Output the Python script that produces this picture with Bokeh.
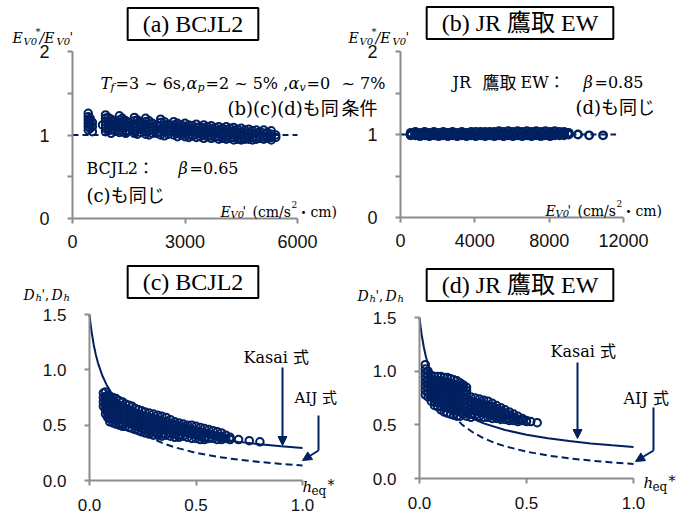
from bokeh.plotting import figure
from bokeh.models import Label, Arrow, NormalHead, FixedTicker, PrintfTickFormatter, Range1d
from bokeh.layouts import column, row
from bokeh.embed import file_html
from bokeh.resources import INLINE

NAVY = "#002060"
AXIS = "#8c8c8c"
SERIF = "DejaVu Serif, Noto Sans CJK JP"
TITLEF = "Liberation Serif, Noto Sans CJK JP"
TICKF = "Liberation Sans"

# ---------------- data ----------------
# (a) BCJL2 : E_V0' vs E_V0*/E_V0'
a_cols = [420, 470, 530, 800, 880, 950, 1030, 1100, 1250, 1330, 1420, 1500, 1650, 1730, 1820,
          1950, 2040, 2130, 2250, 2350, 2450, 2560, 2700, 2800, 2900, 3000, 3100, 3200, 3300,
          3400, 3500, 3600, 3700, 3800, 3900, 4000, 4100, 4200, 4300, 4400, 4500, 4600, 4700,
          4800, 4900, 5000, 5100, 5200, 5300, 5420]
a_vals = [
    [1.26, 1.22, 1.18, 1.14, 1.10, 1.06], [1.20, 1.16, 1.12, 1.08], [1.15, 1.10, 1.04], [1.12],
    [1.24, 1.20, 1.16, 1.12, 1.08, 1.04], [1.21, 1.17, 1.13, 1.09, 1.05], [1.19, 1.14, 1.10, 1.06, 1.02],
    [1.16, 1.12, 1.07], [1.23, 1.18, 1.14, 1.10, 1.06, 1.03], [1.20, 1.16, 1.12, 1.08, 1.04],
    [1.17, 1.13, 1.09, 1.05, 1.02], [1.15, 1.10, 1.05], [1.21, 1.17, 1.13, 1.09, 1.05, 1.02],
    [1.18, 1.14, 1.10, 1.06, 1.01], [1.15, 1.11, 1.07, 1.03], [1.20, 1.16, 1.12, 1.08, 1.04, 1.01],
    [1.17, 1.13, 1.09, 1.05, 1.00], [1.14, 1.10, 1.06, 1.02], [1.12, 1.07, 1.02],
    [1.19, 1.15, 1.11, 1.07, 1.03, 1.00], [1.16, 1.12, 1.08, 1.04, 0.99], [1.13, 1.09, 1.05, 1.01],
    [1.16, 1.12, 1.08, 1.04, 1.00], [1.14, 1.10, 1.06, 1.02, 0.98], [1.12, 1.08, 1.04, 1.00],
    [1.14, 1.10, 1.06, 1.02, 0.98], [1.12, 1.08, 1.04, 1.00, 0.97], [1.11, 1.07, 1.03, 0.99],
    [1.13, 1.09, 1.05, 1.01, 0.97], [1.10, 1.06, 1.02, 0.98], [1.12, 1.08, 1.04, 1.00, 0.96],
    [1.10, 1.06, 1.02, 0.98], [1.11, 1.07, 1.03, 0.99, 0.96], [1.09, 1.05, 1.01, 0.97],
    [1.10, 1.06, 1.02, 0.98, 0.95], [1.08, 1.04, 1.00, 0.96], [1.10, 1.06, 1.02, 0.98, 0.95],
    [1.08, 1.04, 1.00, 0.96], [1.09, 1.05, 1.01, 0.97, 0.94], [1.07, 1.03, 0.99, 0.95],
    [1.08, 1.04, 1.00, 0.96, 0.94], [1.06, 1.02, 0.98, 0.95], [1.07, 1.03, 0.99, 0.95],
    [1.05, 1.01, 0.97, 0.94], [1.06, 1.02, 0.98, 0.95], [1.04, 1.00, 0.96],
    [1.06, 1.02, 0.98, 0.95], [1.03, 0.99, 0.96], [1.05, 1.01, 0.97, 0.94], [1.00, 0.97]]

# (b) JR Takatori EW
b_cols = [550, 800, 1050, 1300, 1550, 1800, 2050, 2300, 2550, 2800, 3050, 3300, 3550, 3800,
          4050, 4300, 4550, 4800, 5050, 5300, 5550, 5800, 6050, 6300, 6550, 6800, 7050, 7300,
          7550, 7800, 8050, 8300, 8550, 8800, 9050, 9550, 10150, 10900]
b_vals = [
    [1.02, 1.00, 0.99], [1.03, 1.01, 0.99], [1.02, 1.00, 0.98], [1.03, 1.01, 0.99],
    [1.02, 1.00, 0.98], [1.03, 1.01, 0.99], [1.02, 1.00, 0.98], [1.03, 1.01, 0.99],
    [1.02, 1.00, 0.98], [1.03, 1.01, 0.99], [1.02, 1.00, 0.98], [1.03, 1.01, 0.99],
    [1.02, 1.00, 0.98], [1.03, 1.01, 0.99], [1.03, 1.00, 0.98], [1.03, 1.01, 0.99],
    [1.03, 1.00, 0.98], [1.03, 1.01, 0.99], [1.03, 1.00, 0.98], [1.04, 1.01, 0.99],
    [1.03, 1.00, 0.98], [1.04, 1.01, 0.99], [1.03, 1.00, 0.98], [1.04, 1.01, 0.99],
    [1.03, 1.00, 0.98], [1.04, 1.01, 0.99], [1.03, 1.00, 0.98], [1.04, 1.01, 0.99],
    [1.03, 1.00, 0.98], [1.04, 1.01, 0.99], [1.03, 1.00, 0.98], [1.04, 1.01, 0.99],
    [1.03, 1.00, 0.99], [1.03, 1.01, 0.99], [1.02, 1.00], [1.00], [0.99], [0.99]]

# reference level E_V0*/E_V0' = 1 (dashed)
ref_level = [1.0, 1.0]
ref_span_a = [0, 6000]
ref_span_b = [0, 11600]

# (c) BCJL2 : h_eq* vs D_h
c_cols = [0.065, 0.075, 0.085, 0.095, 0.11, 0.125, 0.14, 0.155, 0.17, 0.185, 0.20, 0.215, 0.23,
          0.245, 0.26, 0.28, 0.30, 0.32, 0.34, 0.36, 0.38, 0.40, 0.42, 0.44, 0.46, 0.48, 0.50,
          0.52, 0.54, 0.56, 0.58, 0.60, 0.62, 0.64, 0.66, 0.70, 0.75, 0.80]
c_vals = [
    [0.79, 0.75, 0.71, 0.67], [0.80, 0.76, 0.72, 0.68, 0.64, 0.60], [0.77, 0.73, 0.69, 0.65, 0.61, 0.57],
    [0.76, 0.72, 0.68, 0.64, 0.60, 0.56, 0.53], [0.75, 0.71, 0.67, 0.63, 0.59, 0.55, 0.52],
    [0.74, 0.70, 0.66, 0.62, 0.58, 0.54, 0.51], [0.72, 0.68, 0.64, 0.60, 0.56, 0.52, 0.50],
    [0.71, 0.67, 0.63, 0.59, 0.55, 0.51, 0.49], [0.69, 0.65, 0.61, 0.57, 0.53, 0.49],
    [0.68, 0.64, 0.60, 0.56, 0.52, 0.48], [0.67, 0.63, 0.59, 0.55, 0.51, 0.47],
    [0.65, 0.61, 0.57, 0.53, 0.49, 0.46], [0.64, 0.60, 0.56, 0.52, 0.48, 0.45],
    [0.63, 0.59, 0.55, 0.51, 0.47, 0.44], [0.62, 0.58, 0.54, 0.50, 0.46, 0.43],
    [0.61, 0.57, 0.53, 0.49, 0.45, 0.42], [0.60, 0.56, 0.52, 0.48, 0.44, 0.41],
    [0.59, 0.55, 0.51, 0.47, 0.43, 0.41], [0.58, 0.54, 0.50, 0.46, 0.42, 0.40],
    [0.57, 0.53, 0.49, 0.45, 0.41], [0.55, 0.51, 0.47, 0.43, 0.40], [0.53, 0.50, 0.46, 0.42, 0.39],
    [0.52, 0.49, 0.45, 0.41, 0.39], [0.51, 0.48, 0.44, 0.40], [0.50, 0.47, 0.43, 0.39],
    [0.50, 0.46, 0.42, 0.38], [0.49, 0.45, 0.41, 0.38], [0.48, 0.44, 0.40, 0.37],
    [0.47, 0.43, 0.39, 0.37], [0.46, 0.42, 0.38], [0.45, 0.41, 0.38], [0.44, 0.40, 0.37],
    [0.43, 0.39, 0.37], [0.41, 0.38], [0.39, 0.37], [0.37], [0.36], [0.35]]

# (d) JR Takatori EW : h_eq* vs D_h
d_cols = [0.027, 0.04, 0.055, 0.07, 0.085, 0.10, 0.115, 0.13, 0.145, 0.16, 0.175, 0.19, 0.205,
          0.22, 0.24, 0.26, 0.28, 0.30, 0.32, 0.34, 0.36, 0.38, 0.40, 0.42, 0.44, 0.46, 0.48,
          0.50, 0.52, 0.55]
d_vals = [
    [1.06, 1.02, 0.98, 0.94, 0.90, 0.86, 0.82, 0.78], [1.00, 0.96, 0.92, 0.88, 0.84, 0.80, 0.76],
    [0.96, 0.92, 0.88, 0.84, 0.80, 0.76, 0.72], [0.95, 0.91, 0.87, 0.83, 0.79, 0.75, 0.71, 0.68],
    [0.95, 0.91, 0.87, 0.83, 0.79, 0.75, 0.71, 0.67], [0.95, 0.91, 0.87, 0.83, 0.79, 0.75, 0.71, 0.67, 0.64],
    [0.94, 0.90, 0.86, 0.82, 0.78, 0.74, 0.70, 0.66, 0.62], [0.94, 0.90, 0.86, 0.82, 0.78, 0.74, 0.70, 0.66, 0.61],
    [0.93, 0.89, 0.85, 0.81, 0.77, 0.73, 0.69, 0.65, 0.60], [0.92, 0.88, 0.84, 0.80, 0.76, 0.72, 0.68, 0.64, 0.59],
    [0.91, 0.87, 0.83, 0.79, 0.75, 0.71, 0.67, 0.63, 0.58], [0.89, 0.86, 0.82, 0.78, 0.74, 0.70, 0.66, 0.62, 0.58],
    [0.87, 0.84, 0.80, 0.76, 0.72, 0.68, 0.64, 0.60], [0.85, 0.82, 0.78, 0.74, 0.70, 0.66, 0.62, 0.58],
    [0.76, 0.72, 0.68, 0.64, 0.60, 0.57], [0.75, 0.71, 0.67, 0.63, 0.59], [0.74, 0.70, 0.66, 0.62, 0.58],
    [0.73, 0.69, 0.65, 0.61, 0.57], [0.72, 0.68, 0.64, 0.60, 0.57], [0.70, 0.67, 0.63, 0.59, 0.56],
    [0.68, 0.65, 0.62, 0.58, 0.56], [0.66, 0.63, 0.60, 0.57, 0.55], [0.64, 0.61, 0.58, 0.55],
    [0.62, 0.59, 0.56, 0.54], [0.60, 0.57, 0.54], [0.58, 0.55, 0.53], [0.56, 0.54], [0.54, 0.53],
    [0.53], [0.52]]

# Kasai and AIJ damping-reduction curves
kasai_h = [0.0, 0.005, 0.01, 0.02, 0.03, 0.04, 0.06, 0.08, 0.10, 0.12, 0.15, 0.20, 0.25, 0.30,
           0.40, 0.50, 0.60, 0.70, 0.80, 0.90, 1.00]
kasai_d = [1.500, 1.414, 1.342, 1.225, 1.134, 1.061, 0.949, 0.866, 0.802, 0.750, 0.688, 0.612,
           0.557, 0.514, 0.452, 0.408, 0.375, 0.349, 0.327, 0.309, 0.294]
aij_h = [0.15, 0.20, 0.25, 0.30, 0.35, 0.40, 0.50, 0.60, 0.70, 0.80, 0.90, 1.00]
aij_d = [0.600, 0.500, 0.429, 0.375, 0.333, 0.300, 0.250, 0.214, 0.188, 0.167, 0.150, 0.136]

x_ticks_a = [0, 3000, 6000]
x_ticks_b = [0, 4000, 8000, 12000]
y_ticks_top = [0, 1, 2]
y_minor_top = [0.5, 1.5]
ticks_bottom_x = [0, 0.5, 1.0]
ticks_bottom_y = [0, 0.5, 1.0, 1.5]


def flat(cols, vals):
    xs, ys = [], []
    for c, v in zip(cols, vals):
        for y in v:
            xs.append(c)
            ys.append(y)
    return xs, ys


# ---------------- geometry (page pixels) ----------------
GA = dict(ox=0, oy=0, w=341, h=260, fl=72, fr=297, ft=51, fb=218, x=(0, 6000), y=(0, 2))
GB = dict(ox=341, oy=0, w=342, h=260, fl=400, fr=623, ft=51, fb=217, x=(0, 12000), y=(0, 2))
GC = dict(ox=0, oy=260, w=341, h=260, fl=89, fr=302, ft=314, fb=480, x=(0, 1), y=(0, 1.5))
GD = dict(ox=341, oy=260, w=342, h=260, fl=419, fr=633, ft=317, fb=478, x=(0, 1), y=(0, 1.5))


def sx(g, px):
    return px - g["ox"]


def sy(g, py):
    return g["oy"] + g["h"] - py


def make_fig(g, xt, yt, ym, fmt=None, tick_size="18px", xstand=11):
    kx = (g["x"][1] - g["x"][0]) / (g["fr"] - g["fl"])
    ky = (g["y"][1] - g["y"][0]) / (g["fb"] - g["ft"])
    xr = Range1d(g["x"][0] - (g["fl"] - g["ox"]) * kx, g["x"][1] + (g["ox"] + g["w"] - g["fr"]) * kx)
    yr = Range1d(g["y"][0] - (g["oy"] + g["h"] - g["fb"]) * ky, g["y"][1] + (g["ft"] - g["oy"]) * ky)
    p = figure(width=g["w"], height=g["h"], x_range=xr, y_range=yr,
               output_backend="svg", toolbar_location=None, min_border=0,
               min_border_left=0, min_border_right=0, min_border_top=0, min_border_bottom=0)
    p.xgrid.visible = False
    p.ygrid.visible = False
    p.outline_line_color = None
    p.background_fill_color = "white"
    p.border_fill_color = "white"
    p.xaxis.ticker = FixedTicker(ticks=xt)
    p.yaxis.ticker = FixedTicker(ticks=yt, minor_ticks=ym)
    p.xaxis.fixed_location = g["y"][0]
    p.yaxis.fixed_location = g["x"][0]
    p.xaxis.bounds = g["x"]
    p.yaxis.bounds = g["y"]
    for ax in (p.xaxis[0], p.yaxis[0]):
        ax.axis_line_color = AXIS
        ax.axis_line_width = 2
        ax.major_tick_line_color = AXIS
        ax.major_tick_line_width = 2
        ax.major_tick_out = 5
        ax.major_tick_in = 0
        ax.minor_tick_line_color = AXIS
        ax.minor_tick_line_width = 2
        ax.minor_tick_out = 5
        ax.minor_tick_in = 0
        ax.major_label_text_font = TICKF
        ax.major_label_text_font_size = tick_size
        ax.major_label_text_color = "#111111"
        if fmt:
            ax.formatter = PrintfTickFormatter(format=fmt)
    p.yaxis.major_label_standoff = 18
    p.xaxis.major_label_standoff = xstand
    return p


def lab(p, g, px, py, text, size, style="normal", font=SERIF, **kw):
    p.add_layout(Label(x=sx(g, px), y=sy(g, py), x_units="screen", y_units="screen",
                       text=text, text_font=font, level="overlay",
                       text_font_size=f"{size}px", text_font_style=style,
                       text_color="black", text_baseline=kw.pop("baseline", "alphabetic"),
                       text_align=kw.pop("align", "left"), **kw))


def title_box(p, g, cx, cy, text):
    lab(p, g, cx, cy, text, 24, font=TITLEF, align="center", baseline="middle",
        border_line_color="black", border_line_width=2, background_fill_color="white",
        padding=(15, 3))


def ev_titles(p, g, x0, xt0):
    # y-axis title  E_V0*/E_V0'
    lab(p, g, x0, 37, "E", 14, "italic")
    lab(p, g, x0 + 11, 41, "V0", 10, "italic")
    lab(p, g, x0 + 23, 31, "*", 10)
    lab(p, g, x0 + 27, 37, "/E", 14, "italic")
    lab(p, g, x0 + 44, 41, "V0", 10, "italic")
    lab(p, g, x0 + 57, 37, "'", 13)
    # x-axis title  E_V0' (cm/s2・cm)
    yb = g["fb"] - 7
    lab(p, g, xt0, yb, "E", 14, "italic")
    lab(p, g, xt0 + 10, yb + 3, "V0", 10, "italic")
    lab(p, g, xt0 + 22, yb, "'", 13)
    lab(p, g, xt0 + 32, yb, "(cm/s", 14)
    lab(p, g, xt0 + 71, yb - 7, "2", 9)
    lab(p, g, xt0 + 76, yb, "・cm)", 14)


def dh_titles(p, g, x0, yb, xh, xb):
    lab(p, g, x0, yb, "D", 14, "italic")
    lab(p, g, x0 + 12, yb + 3, "h", 10, "italic")
    lab(p, g, x0 + 18, yb, "',", 13)
    lab(p, g, x0 + 28, yb, "D", 14, "italic")
    lab(p, g, x0 + 40, yb + 3, "h", 10, "italic")
    lab(p, g, xh, xb, "h", 15, "italic")
    lab(p, g, xh + 9, xb + 4, "eq", 12)
    lab(p, g, xh + 25, xb - 2, "*", 14)


def scatter(p, xs, ys, lw=2.0):
    p.scatter(xs, ys, marker="circle", size=7.5, fill_color=None, line_color=NAVY, line_width=lw)


def curves(p):
    p.line(kasai_h, kasai_d, line_color=NAVY, line_width=2)
    p.line(aij_h, aij_d, line_color=NAVY, line_width=2, line_dash="7 4")


def arrow(p, g, x1, y1, x2, y2, head=True):
    p.add_layout(Arrow(x_start=sx(g, x1), y_start=sy(g, y1), x_end=sx(g, x2), y_end=sy(g, y2),
                       start_units="screen", end_units="screen", level="overlay",
                       line_color=NAVY, line_width=2,
                       end=NormalHead(size=9, fill_color=NAVY, line_color=NAVY) if head else None))


# ---------------- (a) ----------------
pa = make_fig(GA, x_ticks_a, y_ticks_top, y_minor_top)
pa.line(ref_span_a, ref_level, line_color=NAVY, line_width=2, line_dash="6 4")
xa, ya = flat(a_cols, a_vals)
scatter(pa, xa, ya)
title_box(pa, GA, 192.5, 23.5, "(a) BCJL2")
ev_titles(pa, GA, 12, 220)
lab(pa, GA, 100, 83, "T", 16, "italic")
lab(pa, GA, 110, 87, "f", 11, "italic")
lab(pa, GA, 115, 83, "=3 ~ 6s,", 16)
lab(pa, GA, 186, 83, "α", 16, "italic")
lab(pa, GA, 197, 87, "p", 11, "italic")
lab(pa, GA, 205, 83, "=2 ~ 5% ,", 16)
lab(pa, GA, 288, 83, "α", 16, "italic")
lab(pa, GA, 299, 87, "v", 11, "italic")
lab(pa, GA, 306, 83, "=0", 16)
lab(pa, GA, 227, 108, "(b)(c)(d)も同", 18)
lab(pa, GA, 86, 168, "BCJL2：", 16)
lab(pa, GA, 178, 168, "β", 16, "italic")
lab(pa, GA, 189, 168, "=0.65", 16)
lab(pa, GA, 86, 195, "(c)も同じ", 18)

# ---------------- (b) ----------------
pb = make_fig(GB, x_ticks_b, y_ticks_top, y_minor_top)
pb.line(ref_span_b, ref_level, line_color=NAVY, line_width=2, line_dash="6 4")
xb, yb = flat(b_cols, b_vals)
scatter(pb, xb, yb, lw=2.4)
title_box(pb, GB, 519.5, 22.5, "(b) JR 鷹取 EW")
ev_titles(pb, GB, 348, 545)
lab(pb, GB, 341, 83, "~ 7%", 16)
lab(pb, GB, 341, 108, "条件", 18)
lab(pb, GB, 452, 82, "JR", 16)
lab(pb, GB, 482, 82, "鷹取", 17)
lab(pb, GB, 520, 82, "EW：", 16)
lab(pb, GB, 583, 82, "β", 16, "italic")
lab(pb, GB, 594, 82, "=0.85", 16)
lab(pb, GB, 575, 107, "(d)も同じ", 18)

# ---------------- (c) ----------------
pc = make_fig(GC, ticks_bottom_x, ticks_bottom_y, [], fmt="%.1f", tick_size="17px", xstand=13)
xc, yc = flat(c_cols, c_vals)
scatter(pc, xc, yc)
curves(pc)
title_box(pc, GC, 192.5, 281.5, "(c) BCJL2")
dh_titles(pc, GC, 23, 294, 302, 486)
lab(pc, GC, 243, 357, "Kasai 式", 16)
lab(pc, GC, 294, 397, "AIJ 式", 15)
arrow(pc, GC, 282, 367, 282, 445)
arrow(pc, GC, 318, 415, 318, 450, head=False)
arrow(pc, GC, 318, 450, 302, 460)

# ---------------- (d) ----------------
pd_ = make_fig(GD, ticks_bottom_x, ticks_bottom_y, [], fmt="%.1f", tick_size="17px", xstand=13)
xd, yd = flat(d_cols, d_vals)
scatter(pd_, xd, yd)
curves(pd_)
title_box(pd_, GD, 519.5, 284.5, "(d) JR 鷹取 EW")
dh_titles(pd_, GD, 357, 295, 643, 482)
lab(pd_, GD, 550, 351, "Kasai 式", 16)
lab(pd_, GD, 623, 398, "AIJ 式", 16)
arrow(pd_, GD, 577, 362, 577, 438)
arrow(pd_, GD, 653, 407, 653, 450, head=False)
arrow(pd_, GD, 653, 450, 635, 461)

layout = column(row(pa, pb), row(pc, pd_))
open("out.html", "w").write(file_html(layout, INLINE))
